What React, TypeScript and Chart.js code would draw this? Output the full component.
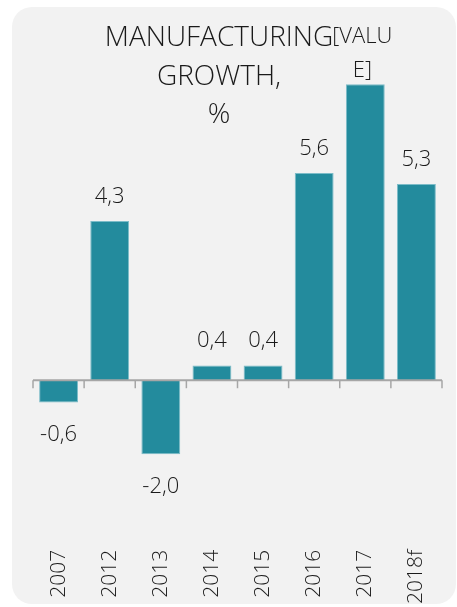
import React, { useEffect, useRef } from "react";
import { Chart, registerables } from "chart.js";

Chart.register(...registerables);

const categories = ["2007", "2012", "2013", "2014", "2015", "2016", "2017", "2018f"];
const growthValues = [-0.6, 4.3, -2.0, 0.4, 0.4, 5.6, 8.0, 5.3];
const valueLabels = ["-0,6", "4,3", "-2,0", "0,4", "0,4", "5,6", "[VALUE]", "5,3"];
const titleLines = ["MANUFACTURING", "GROWTH,", "%"];

const FONT = "'Open Sans', 'Noto Sans', sans-serif";
const TEXT = "#1a1a1a";
const BAR = "#238b9d";
const BAR_EDGE = "#7cbcc8";
const AXIS = "#a6a6a6";

const panelPlugin = {
  id: "panel",
  beforeDraw(chart: any) {
    const ctx = chart.ctx;
    ctx.save();
    ctx.fillStyle = "#ffffff";
    ctx.fillRect(0, 0, chart.width, chart.height);
    ctx.fillStyle = "#f2f2f2";
    ctx.beginPath();
    ctx.roundRect(12, 7, 444, 597, 20);
    ctx.fill();
    ctx.restore();
  },
};

const overlayPlugin = {
  id: "overlay",
  afterDatasetsDraw(chart: any) {
    const ctx = chart.ctx;
    const x = chart.scales.x;
    const y = chart.scales.y;
    const zeroY = y.getPixelForValue(0);
    const area = chart.chartArea;
    ctx.save();
    ctx.strokeStyle = AXIS;
    ctx.lineWidth = 2;
    ctx.beginPath();
    ctx.moveTo(area.left, zeroY);
    ctx.lineTo(area.right, zeroY);
    ctx.stroke();
    const half = (x.getPixelForValue(1) - x.getPixelForValue(0)) / 2;
    ctx.lineWidth = 1.5;
    for (let i = 0; i <= categories.length; i++) {
      const px = i < categories.length ? x.getPixelForValue(i) - half : x.getPixelForValue(categories.length - 1) + half;
      ctx.beginPath();
      ctx.moveTo(px, zeroY);
      ctx.lineTo(px, zeroY + 8);
      ctx.stroke();
    }
    ctx.fillStyle = TEXT;
    ctx.textAlign = "center";
    ctx.textBaseline = "alphabetic";
    ctx.font = `300 22px ${FONT}`;
    const meta = chart.getDatasetMeta(0);
    meta.data.forEach((bar: any, i: number) => {
      const v = growthValues[i];
      const label = valueLabels[i];
      if (label === "[VALUE]") {
        ctx.fillText("[VALU", bar.x - 3, bar.y - 41);
        ctx.fillText("E]", bar.x - 3, bar.y - 7);
      } else if (v >= 0) {
        ctx.fillText(label, bar.x, bar.y - 18);
      } else {
        ctx.fillText(label, bar.x, bar.y + 39);
      }
    });
    ctx.font = `300 28px ${FONT}`;
    ctx.fillText(titleLines[0], 219, 46);
    ctx.fillText(titleLines[1], 219, 85);
    ctx.fillText(titleLines[2], 219, 123);
    ctx.restore();
  },
};

export default function App() {
  const ref = useRef<HTMLCanvasElement>(null);
  useEffect(() => {
    if (!ref.current) return;
    const chart = new Chart(ref.current, {
      type: "bar",
      data: {
        labels: categories,
        datasets: [
          {
            data: growthValues,
            backgroundColor: BAR,
            borderColor: BAR_EDGE,
            borderWidth: 1,
            barPercentage: 0.76,
            categoryPercentage: 1,
          },
        ],
      },
      options: {
        animation: false,
        responsive: false,
        devicePixelRatio: 1,
        layout: { padding: { left: 33, right: 15, top: 62, bottom: 0 } },
        plugins: { legend: { display: false }, tooltip: { enabled: false }, title: { display: false } },
        scales: {
          x: {
            grid: { display: false, drawTicks: false },
            border: { display: false },
            ticks: {
              minRotation: 90,
              maxRotation: 90,
              padding: 3,
              color: TEXT,
              font: { family: FONT, size: 21, weight: "300" },
            },
          },
          y: {
            display: false,
            min: -4.5,
            max: 8.6,
          },
        },
      },
      plugins: [panelPlugin, overlayPlugin],
    });
    return () => chart.destroy();
  }, []);
  return (
    <div style={{ position: "fixed", left: 0, top: 0, width: 457, height: 607 }}>
      <canvas ref={ref} width={457} height={607} style={{ display: "block" }} />
    </div>
  );
}
